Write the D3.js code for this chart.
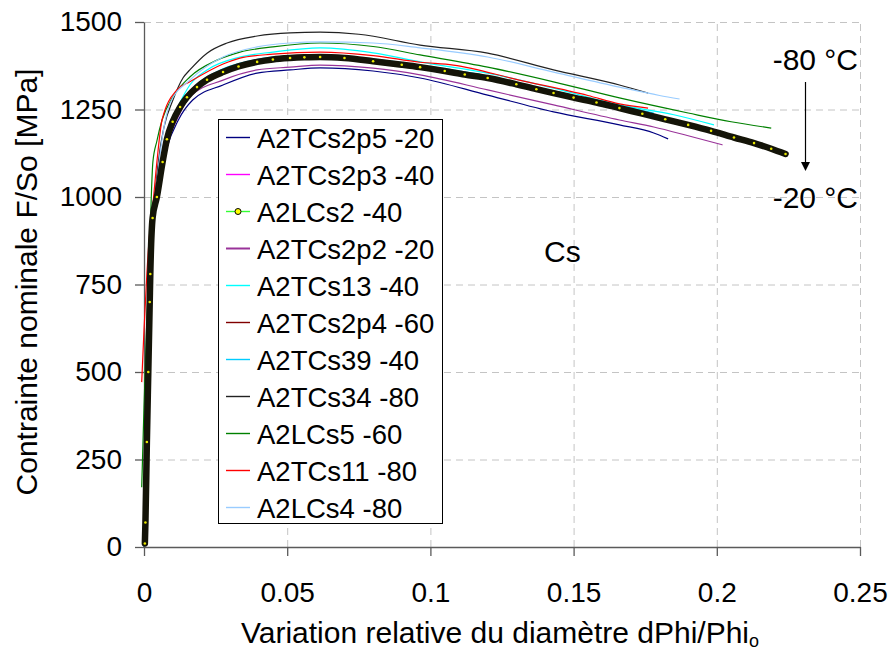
<!DOCTYPE html>
<html>
<head>
<meta charset="utf-8">
<script src="https://cdn.jsdelivr.net/npm/d3@7"></script>
<style>
  html, body { margin: 0; padding: 0; background: #fff; }
  svg { display: block; font-family: "Liberation Sans", Arial, sans-serif; }
</style>
</head>
<body>
<svg id="chart" width="894" height="659"></svg>
<script>
// ---------------- data (strain dPhi/Phi, nominal stress MPa) ----------------
const xTicks = [0, 0.05, 0.1, 0.15, 0.2, 0.25];
const xTickLabels = ["0", "0.05", "0.1", "0.15", "0.2", "0.25"];
const yTicks = [0, 250, 500, 750, 1000, 1250, 1500];
const yTickLabels = ["0", "250", "500", "750", "1000", "1250", "1500"];

const seriesNames = ["A2TCs2p5 -20", "A2TCs2p3 -40", "A2LCs2 -40", "A2TCs2p2 -20", "A2TCs13 -40",
  "A2TCs2p4 -60", "A2TCs39 -40", "A2TCs34 -80", "A2LCs5 -60", "A2TCs11 -80", "A2LCs4 -80"];

const A2TCs2p5 = [[0,0],[0.001,300],[0.002,650],[0.003,900],[0.005,1020],[0.008,1140],[0.012,1220],
  [0.017,1277],[0.0276,1320],[0.0395,1354],[0.051,1363],[0.0615,1369],[0.08,1360],[0.0964,1340],
  [0.12,1291],[0.143,1243],[0.166,1206],[0.178,1183],[0.183,1166]];
const A2TCs2p3 = [[0,0],[0.001,300],[0.002,700],[0.003,930],[0.005,1010],[0.008,1160],[0.0126,1252],
  [0.0185,1310],[0.0276,1352],[0.0395,1382],[0.051,1393],[0.0615,1396],[0.08,1384],[0.0964,1367],
  [0.12,1336],[0.143,1293],[0.16,1262]];
const A2LCs2 = [[0.0003,10],[0.0005,70],[0.001,300],[0.0015,500],[0.002,700],[0.0022,780],[0.003,940],
  [0.0045,1000],[0.0065,1100],[0.008,1165],[0.010,1215],[0.0126,1257],[0.015,1285],[0.0185,1314],
  [0.022,1335],[0.0276,1357],[0.033,1373],[0.0395,1386],[0.045,1393],[0.051,1397],[0.056,1399],
  [0.0615,1400],[0.07,1397],[0.08,1388],[0.09,1378],[0.0964,1371],[0.105,1360],[0.112,1350],
  [0.12,1340],[0.13,1322],[0.137,1308],[0.143,1297],[0.15,1284],[0.158,1270],[0.166,1254],
  [0.174,1238],[0.182,1222],[0.19,1206],[0.198,1189],[0.206,1170],[0.213,1154],[0.219,1138],[0.224,1123]];
const A2TCs2p2 = [[0,0],[0.001,300],[0.002,650],[0.003,900],[0.005,1030],[0.008,1150],[0.012,1230],
  [0.016,1286],[0.0276,1334],[0.0395,1363],[0.051,1371],[0.0615,1377],[0.08,1368],[0.0964,1349],
  [0.12,1306],[0.143,1263],[0.166,1220],[0.178,1200],[0.19,1175],[0.202,1149]];
const A2TCs13 = [[0,0],[0.001,350],[0.002,700],[0.003,930],[0.005,1060],[0.008,1180],[0.012,1260],
  [0.016,1320],[0.022,1363],[0.0335,1400],[0.045,1414],[0.0615,1426],[0.08,1412],[0.0964,1386],
  [0.12,1354],[0.143,1311],[0.166,1263],[0.185,1235],[0.199,1206]];
const A2TCs2p4 = [[0,0],[0.001,320],[0.002,700],[0.003,940],[0.005,1020],[0.008,1170],[0.0126,1260],
  [0.0185,1318],[0.0276,1360],[0.0395,1389],[0.051,1400],[0.0615,1402],[0.08,1391],[0.0964,1374],
  [0.12,1343],[0.152,1285]];
const A2TCs39 = [[0,0],[0.001,330],[0.002,700],[0.003,930],[0.005,1040],[0.008,1175],[0.0126,1262],
  [0.0185,1322],[0.0276,1366],[0.0395,1393],[0.051,1403],[0.0615,1405],[0.08,1394],[0.0964,1377],
  [0.12,1346],[0.143,1303],[0.166,1262],[0.178,1240]];
const A2TCs34 = [[0,0],[0.001,400],[0.002,700],[0.003,900],[0.005,1100],[0.007,1200],[0.0101,1277],
  [0.0136,1340],[0.016,1363],[0.022,1411],[0.029,1440],[0.0395,1460],[0.051,1469],[0.0615,1471],
  [0.075,1465],[0.0964,1434],[0.12,1411],[0.143,1363],[0.166,1320],[0.176,1297]];
const A2LCs5 = [[-0.0008,171],[0,400],[0.001,650],[0.002,850],[0.0025,990],[0.0031,1100],[0.0045,1160],
  [0.0063,1220],[0.0101,1286],[0.016,1343],[0.0255,1391],[0.0335,1414],[0.045,1429],[0.0615,1440],
  [0.08,1430],[0.0964,1406],[0.12,1371],[0.143,1329],[0.166,1283],[0.19,1240],[0.205,1215],[0.219,1197]];
const A2TCs11 = [[-0.0008,471],[0,620],[0.001,780],[0.002,900],[0.003,971],[0.0045,1100],[0.0063,1220],
  [0.0115,1306],[0.016,1329],[0.0276,1380],[0.0335,1397],[0.045,1408],[0.0615,1414],[0.08,1404],
  [0.0964,1385],[0.108,1377],[0.131,1334],[0.155,1290],[0.166,1266],[0.176,1254]];
const A2LCs4 = [[0,0],[0.001,400],[0.002,700],[0.003,900],[0.005,1080],[0.0091,1268],[0.016,1334],
  [0.0276,1400],[0.0395,1429],[0.051,1440],[0.0615,1443],[0.08,1440],[0.0964,1426],[0.12,1400],
  [0.143,1357],[0.166,1314],[0.18,1290],[0.187,1280]];

const seriesData = [A2TCs2p5, A2TCs2p3, A2LCs2, A2TCs2p2, A2TCs13, A2TCs2p4, A2TCs39, A2TCs34, A2LCs5, A2TCs11, A2LCs4];

// ---------------- styles ----------------
const colors = ["#000080", "#ff00ff", "#33ff33", "#993399", "#00ffff", "#800000", "#00ccff",
  "#222222", "#008000", "#ff0000", "#99ccff"];
const markerIndex = 2;
const FONT = "\"Liberation Sans\", Arial, sans-serif";

// ---------------- layout ----------------
const svg = d3.select("#chart");
const x = d3.scaleLinear().domain([0, 0.25]).range([144, 860]);
const y = d3.scaleLinear().domain([0, 1500]).range([547, 22]);

// gridlines
const grid = svg.append("g").attr("stroke", "#c4c4c4").attr("stroke-dasharray", "7,5").attr("stroke-width", 1);
grid.selectAll("line.h").data(yTicks.filter(d => d > 0)).enter().append("line")
  .attr("x1", x(0)).attr("x2", x(0.25)).attr("y1", d => y(d) + 0.5).attr("y2", d => y(d) + 0.5);
grid.selectAll("line.v").data(xTicks.filter(d => d > 0)).enter().append("line")
  .attr("y1", y(0)).attr("y2", y(1500)).attr("x1", d => x(d) + 0.5).attr("x2", d => x(d) + 0.5);

// axes
const xAxis = d3.axisBottom(x).tickValues(xTicks).tickFormat((d, i) => xTickLabels[i])
  .tickSize(9).tickSizeOuter(0).tickPadding(26);
const yAxis = d3.axisLeft(y).tickValues(yTicks).tickFormat((d, i) => yTickLabels[i])
  .tickSize(9).tickSizeOuter(0).tickPadding(13);
const gx = svg.append("g").attr("transform", `translate(0,${y(0)})`).call(xAxis);
const gy = svg.append("g").attr("transform", `translate(${x(0)},0)`).call(yAxis);
[gx, gy].forEach(g => {
  g.select(".domain").attr("stroke", "#5a5a5a").attr("stroke-width", 1.3);
  g.selectAll(".tick line").attr("stroke", "#5a5a5a").attr("stroke-width", 1.3);
  g.selectAll(".tick text").attr("fill", "#000").style("font-size", "28px").style("font-family", FONT);
});

// series lines
const line = d3.line().x(d => x(d[0])).y(d => y(d[1])).curve(d3.curveMonotoneX);
const lines = svg.append("g").attr("fill", "none");
seriesData.forEach((data, i) => {
  if (i === markerIndex) return;
  lines.append("path").datum(data).attr("d", line)
    .attr("stroke", colors[i]).attr("stroke-width", 1.2).attr("stroke-linejoin", "round");
});
// the marked series (dense markers form a thick dark band)
const mk = svg.append("g");
mk.append("path").datum(seriesData[markerIndex]).attr("d", line).attr("fill", "none")
  .attr("stroke", "#141408").attr("stroke-width", 6.5).attr("stroke-linejoin", "round").attr("stroke-linecap", "round");
mk.selectAll("circle").data(seriesData[markerIndex]).enter().append("circle")
  .attr("cx", d => x(d[0])).attr("cy", d => y(d[1])).attr("r", 1.3).attr("fill", "#e8e800");

// legend
const lg = svg.append("g");
lg.append("rect").attr("x", 218.5).attr("y", 119.5).attr("width", 224).attr("height", 404)
  .attr("fill", "#fff").attr("stroke", "#000").attr("stroke-width", 1);
seriesNames.forEach((name, i) => {
  const cy = 137.5 + i * 37;
  lg.append("line").attr("x1", 226).attr("x2", 250).attr("y1", cy).attr("y2", cy)
    .attr("stroke", colors[i]).attr("stroke-width", i === 3 ? 2 : 1.4);
  if (i === markerIndex) {
    lg.append("circle").attr("cx", 238).attr("cy", cy).attr("r", 3)
      .attr("fill", "#ffff00").attr("stroke", "#000").attr("stroke-width", 1);
  }
  lg.append("text").attr("x", 257).attr("y", cy + 10).text(name)
    .style("font-size", "27.5px").style("font-family", FONT).attr("fill", "#000");
});

// axis titles
svg.append("text").attr("x", 500).attr("y", 643).attr("text-anchor", "middle")
  .style("font-size", "30px").style("font-family", FONT)
  .call(t => {
    t.append("tspan").text("Variation relative du diamètre dPhi/Phi");
    t.append("tspan").attr("dy", 4).style("font-size", "18px").text("o");
  });
svg.append("text").attr("transform", "translate(37,282) rotate(-90)").attr("text-anchor", "middle")
  .style("font-size", "30px").style("font-family", FONT).text("Contrainte nominale F/So [MPa]");

// annotations
svg.append("text").attr("x", 858).attr("y", 70).attr("text-anchor", "end")
  .style("font-size", "30px").style("font-family", FONT).text("-80 °C");
svg.append("text").attr("x", 858).attr("y", 208).attr("text-anchor", "end")
  .style("font-size", "30px").style("font-family", FONT).text("-20 °C");
svg.append("text").attr("x", 544).attr("y", 262)
  .style("font-size", "30px").style("font-family", FONT).text("Cs");
svg.append("line").attr("x1", 805.5).attr("x2", 805.5).attr("y1", 82).attr("y2", 163)
  .attr("stroke", "#000").attr("stroke-width", 1.2);
svg.append("path").attr("d", "M801,162 L810,162 L805.5,171 Z").attr("fill", "#000");
</script>
</body>
</html>
